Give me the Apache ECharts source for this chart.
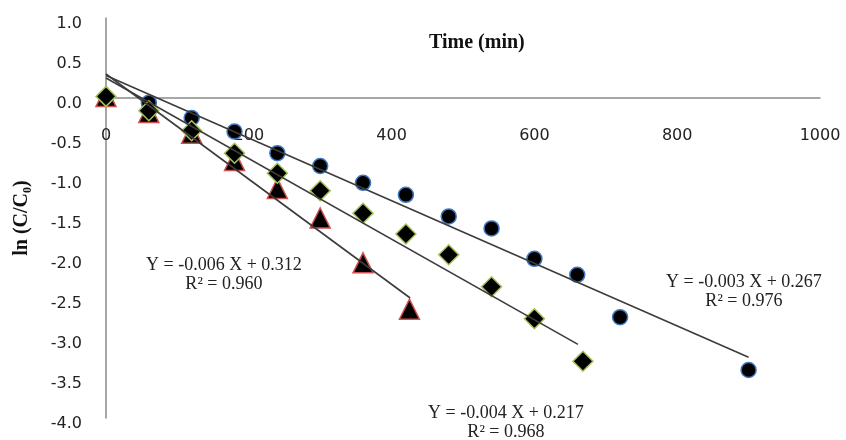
<!DOCTYPE html>
<html>
<head>
<meta charset="utf-8">
<script src="https://cdn.jsdelivr.net/npm/echarts@6/dist/echarts.min.js"></script>
<style>html,body{margin:0;padding:0;background:#fff}#c{width:846px;height:440px}</style>
</head>
<body>
<div id="c"></div>
<script>
// ---- data ----
const circleX = [0, 60, 120, 180, 240, 300, 360, 420, 480, 540, 600, 660, 720, 900];
const circleY = [0.0, -0.06, -0.25, -0.42, -0.69, -0.85, -1.06, -1.21, -1.48, -1.63, -2.01, -2.21, -2.74, -3.40];
const diamondX = [0, 60, 120, 180, 240, 300, 360, 420, 480, 540, 600, 668];
const diamondY = [0.02, -0.16, -0.41, -0.69, -0.94, -1.16, -1.44, -1.70, -1.96, -2.36, -2.76, -3.29];
const triangleX = [0, 60, 120, 180, 240, 300, 360, 425];
const triangleY = [0.02, -0.18, -0.44, -0.78, -1.13, -1.50, -2.06, -2.64];
// trendline endpoints [x, y]
const trendCircle = [[0, 0.28], [900, -3.24]];
const trendDiamond = [[0, 0.25], [661, -3.08]];
const trendTriangle = [[0, 0.30], [426, -2.50]];
const xTicks = {min: 0, max: 1000, interval: 200};
const yTicks = {min: -4, max: 1, interval: 0.5};
const eqTriangle = ['Y = -0.006 X + 0.312', 'R² = 0.960'];
const eqCircle = ['Y = -0.003 X + 0.267', 'R² = 0.976'];
const eqDiamond = ['Y = -0.004 X + 0.217', 'R² = 0.968'];
const xName = 'Time (min)';
const yName = 'ln (C/C₀)';

const zip = (a, b) => a.map((v, i) => [v, b[i]]);
const chart = echarts.init(document.getElementById('c'));
const serif = '"Liberation Serif", "DejaVu Serif", serif';
const axisCol = '#8a8a8a';
const trendStyle = {color: '#3c3c3c', width: 1.6};

function eqText(lines, left, top) {
  return {
    type: 'text', left: left, top: top, z: 100,
    style: {text: lines.join('\n'), font: '18px ' + serif, fill: '#222', textAlign: 'center', lineHeight: 19}
  };
}

chart.setOption({
  animation: false,
  backgroundColor: '#fff',
  title: {
    text: xName, left: 424, top: 28,
    textStyle: {fontFamily: serif, fontWeight: 'bold', fontSize: 20, color: '#111'}
  },
  grid: {left: 106, right: 26, top: 18, bottom: 22, containLabel: false, outerBoundsMode: 'none'},
  xAxis: {
    type: 'value', min: xTicks.min, max: xTicks.max, interval: xTicks.interval,
    offset: -320,
    axisLine: {onZero: false, lineStyle: {color: axisCol, width: 1.5}},
    axisTick: {show: false},
    splitLine: {show: false},
    axisLabel: {margin: 30, fontFamily: 'DejaVu Sans', fontSize: 16, color: '#222', formatter: v => String(v)}
  },
  yAxis: {
    type: 'value', min: yTicks.min, max: yTicks.max, interval: yTicks.interval,
    name: yName, nameLocation: 'middle', nameGap: 74,
    nameTextStyle: {fontFamily: serif, fontWeight: 'bold', fontSize: 20, color: '#111'},
    axisLine: {show: true, onZero: false, lineStyle: {color: axisCol, width: 1.5}},
    axisTick: {show: false},
    splitLine: {show: false},
    axisLabel: {margin: 24, fontFamily: 'DejaVu Sans', fontSize: 16, color: '#222',
      verticalAlign: 'top', lineHeight: 11,
      formatter: v => v.toFixed(1)}
  },
  graphic: [
    eqText(eqTriangle, 146, 256),
    eqText(eqCircle, 666, 273),
    eqText(eqDiamond, 428, 404)
  ],
  series: [
    {type: 'scatter', data: zip(circleX, circleY), symbol: 'circle', symbolSize: 15, z: 3,
      itemStyle: {color: '#000', opacity: 1, borderColor: '#3f78c0', borderWidth: 1.5}},
    {type: 'scatter', data: zip(triangleX, triangleY), symbol: 'triangle', symbolSize: 20, z: 3,
      itemStyle: {color: '#000', opacity: 1, borderColor: '#d0504d', borderWidth: 1.5}},
    {type: 'scatter', data: zip(diamondX, diamondY), symbol: 'diamond', symbolSize: [20, 20], z: 4,
      itemStyle: {color: '#000', opacity: 1, borderColor: '#a4c25a', borderWidth: 1.5}},
    {type: 'line', data: trendCircle, symbol: 'none', z: 5, lineStyle: trendStyle},
    {type: 'line', data: trendDiamond, symbol: 'none', z: 5, lineStyle: trendStyle},
    {type: 'line', data: trendTriangle, symbol: 'none', z: 5, lineStyle: trendStyle}
  ]
});
</script>
</body>
</html>
